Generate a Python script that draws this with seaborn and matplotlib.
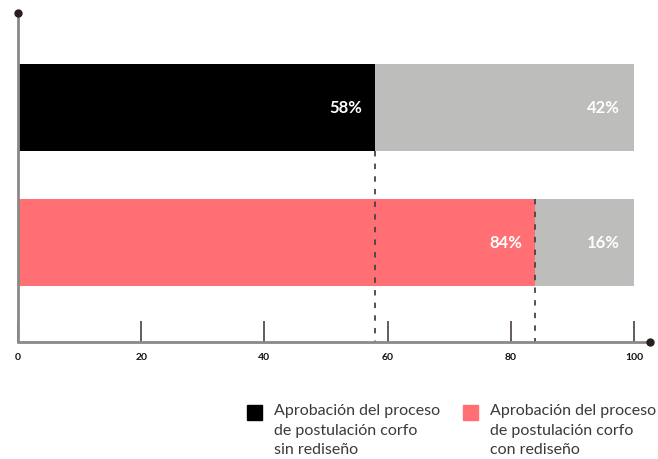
import matplotlib
matplotlib.use("Agg")
import matplotlib.pyplot as plt
import seaborn as sns
import pandas as pd
from matplotlib.patches import Rectangle

categories = ["Aprobación del proceso\nde postulación corfo\nsin rediseño",
              "Aprobación del proceso\nde postulación corfo\ncon rediseño"]
approved = [58, 84]
rest = [42, 16]
totals = [a + r for a, r in zip(approved, rest)]
tick_values = [0, 20, 40, 60, 80, 100]
bar_colors = ["#000000", "#ff6f73"]
gray = "#bdbdbb"

sns.set_theme(style="white")
plt.rcParams["font.family"] = ["Lato", "DejaVu Sans"]

W, H = 658, 459
fig = plt.figure(figsize=(W / 100, H / 100), dpi=100)
left, right, top, bottom = 18, 634, 13, 342
ax = fig.add_axes([left / W, 1 - bottom / H, (right - left) / W, (bottom - top) / H])

df = pd.DataFrame({"cat": categories, "approved": approved, "total": totals})
bw = 87 / 135
sns.barplot(data=df, x="total", y="cat", color=gray, width=bw, ax=ax,
            orient="h", saturation=1, linewidth=0)
sns.barplot(data=df, x="approved", y="cat", hue="cat", palette=bar_colors,
            width=bw, ax=ax, orient="h", saturation=1, linewidth=0, legend=False)

ax.set_xlim(0, 100)
ax.set_ylim(1.737, -0.7)
for s in ax.spines.values():
    s.set_visible(False)
ax.set_ylabel("")
ax.set_xlabel("")
ax.set_yticks([])
ax.set_xticks(tick_values)
ax.set_xticklabels([str(v) for v in tick_values], fontsize=7.5, fontweight="bold",
                   color="#111111")
ax.tick_params(axis="x", direction="in", length=15, width=1.1, color="#3a3030",
               pad=8, bottom=True)

# axis lines with end dots
axis_col = "#8c8886"
ax.plot([0, 102.6], [1.737, 1.737], color=axis_col, lw=2, clip_on=False, zorder=5)
ax.plot([102.6], [1.737], "o", color="#2a1f1c", ms=5, clip_on=False, zorder=6)
ax.plot([0, 0], [1.737, -0.7], color=axis_col, lw=2, clip_on=False, zorder=5)
ax.plot([0], [-0.7], "o", color="#2a1f1c", ms=5, clip_on=False, zorder=6)

# dashed reference lines
half = bw / 2
ax.plot([approved[0], approved[0]], [0 + half, 1.737], color="#444444", lw=1.3,
        ls=(0, (3, 4)), zorder=4)
ax.plot([approved[1], approved[1]], [1 - half, 1.737], color="#444444", lw=1.3,
        ls=(0, (3, 4)), zorder=4)

# value labels
for i, (a, r) in enumerate(zip(approved, rest)):
    ax.text(a - 2.2, i, f"{a}%", ha="right", va="center", color="white",
            fontsize=12, fontweight="bold")
    ax.text(a + r - 2.3, i, f"{r}%", ha="right", va="center", color="white",
            fontsize=12, fontweight="bold")

# legend (manual, cut off at right like reference)
leg_x = [247, 463]
for cx, col, lab in zip(leg_x, bar_colors, categories):
    fig.patches.append(Rectangle((cx / W, 1 - 420 / H), 15 / W, 15 / H,
                                 transform=fig.transFigure, color=col))
    fig.text((cx + 27) / W, 1 - 404 / H, lab, ha="left", va="top", fontsize=11.5,
             color="#3a3a3a", linespacing=1.5)

fig.savefig("out.png", dpi=100)
